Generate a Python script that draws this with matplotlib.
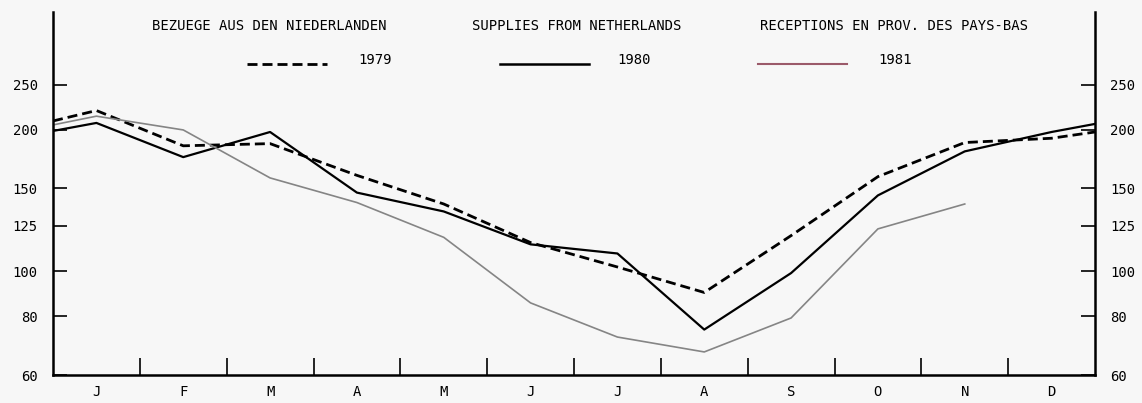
import matplotlib
matplotlib.use("Agg")
import matplotlib.pyplot as plt
from matplotlib.lines import Line2D
import numpy as np

# ---- data (index values, log scale) ----
months = ["J", "F", "M", "A", "M", "J", "J", "A", "S", "O", "N", "D"]
# value at the left edge (start of Jan), monthly values, value at the right edge (end of Dec)
s1979_start = 209
s1979 = [220, 185, 187, 160, 139, 115, 102, 90, 119, 159, 188, 192]
s1979_end = 198
s1980_start = 199
s1980 = [207, 175, 198, 147, 134, 114, 109, 75, 99, 145, 180, 198]
s1980_end = 206
s1981_start = 205
s1981 = [214, 200, 158, 140, 118, 85.5, 72.3, 67.2, 79.4, 123, 139]  # Jan..Nov

yticks = [60, 80, 100, 125, 150, 200, 250]
titles = ["BEZUEGE AUS DEN NIEDERLANDEN", "SUPPLIES FROM NETHERLANDS",
          "RECEPTIONS EN PROV. DES PAYS-BAS"]
years = ["1979", "1980", "1981"]

FONT = "DejaVu Sans Mono"
bg = "#f7f7f7"
c81_line = "#858585"
c81_leg = "#9b5a6a"

fig = plt.figure(figsize=(11.42, 4.03), dpi=100, facecolor=bg)
ax = fig.add_axes([53/1142, 1-375/403, (1095-53)/1142, (375-12)/403])
ax.set_facecolor(bg)

def series_xy(start, vals, end=None):
    x = [0.0] + [i + 0.5 for i in range(len(vals))]
    y = [start] + list(vals)
    if end is not None:
        x.append(12.0)
        y.append(end)
    return x, y

x, y = series_xy(s1979_start, s1979, s1979_end)
ax.plot(x, y, color="black", lw=2.0, linestyle=(0, (3.6, 1.8)), solid_capstyle="butt")
x, y = series_xy(s1980_start, s1980, s1980_end)
ax.plot(x, y, color="black", lw=1.6)
x, y = series_xy(s1981_start, s1981)
ax.plot(x, y, color=c81_line, lw=1.2)

ax.set_yscale("log")
ax.set_ylim(60, 357)
ax.set_xlim(0, 12)

ax.yaxis.set_minor_locator(matplotlib.ticker.NullLocator())
ax.set_yticks(yticks)
ax.set_yticklabels([str(v) for v in yticks])
ax.tick_params(axis="y", which="major", direction="in", length=10, width=1.2,
               left=True, right=True, labelleft=True, labelright=True,
               labelsize=10, pad=11)

ax.set_xticks(range(1, 12))
ax.set_xticklabels([""] * 11)
ax.set_xticks([i + 0.5 for i in range(12)], minor=True)
ax.set_xticklabels(months, minor=True)
ax.tick_params(axis="x", which="major", direction="in", length=12, width=1.2)
ax.tick_params(axis="x", which="minor", length=0, labelsize=10, pad=7)

for lab in ax.get_yticklabels() + ax.get_xticklabels(minor=True):
    lab.set_fontfamily(FONT)

ax.spines["top"].set_visible(False)
for s in ["left", "right", "bottom"]:
    ax.spines[s].set_linewidth(1.8)

# header texts
title_x = [269, 577, 894]
for t, xc in zip(titles, title_x):
    fig.text(xc/1142, 1-26/403, t, ha="center", va="center",
             fontsize=10, family=FONT)

# legend samples
leg = [((247, 327), 358, dict(color="black", lw=2.0, linestyle=(0, (3.6, 1.8)))),
       ((500, 589), 617, dict(color="black", lw=1.8)),
       ((758, 847), 878, dict(color=c81_leg, lw=1.5))]
for (x0, x1), tx, style, yr in [(l[0], l[1], l[2], yr) for l, yr in zip(leg, years)]:
    fig.add_artist(Line2D([x0/1142, x1/1142], [1-64/403, 1-64/403],
                          transform=fig.transFigure, **style))
    fig.text(tx/1142, 1-60/403, yr, ha="left", va="center", fontsize=10, family=FONT)

fig.savefig("out.png", dpi=100, facecolor=bg)
